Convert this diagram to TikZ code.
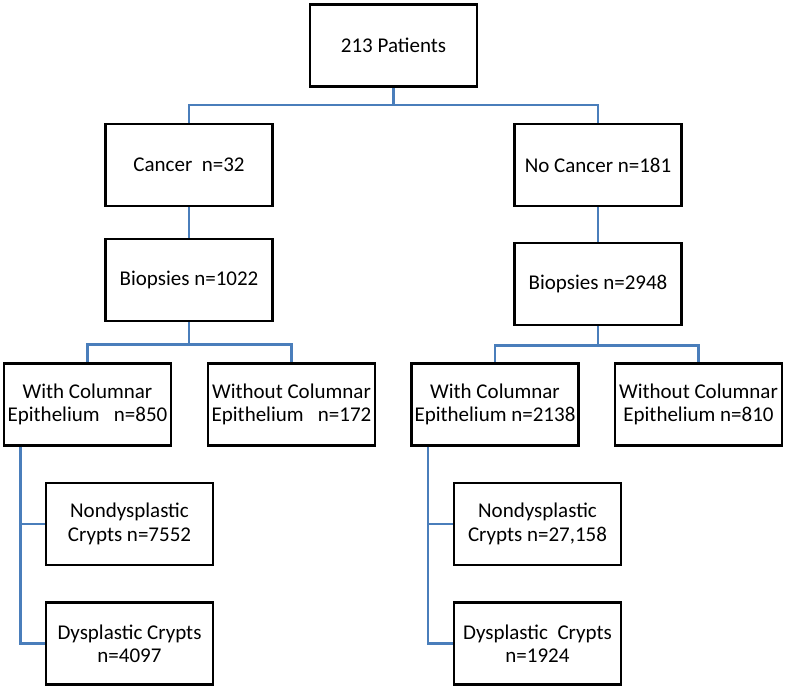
\documentclass[tikz,border=0pt]{standalone}
\usepackage{fontspec}
\setmainfont{Carlito}
\usepackage{tikz}
\usetikzlibrary{calc}
\definecolor{wireblue}{HTML}{4A7EBB}
\tikzset{
    my-box/.style={
        draw, line width=1.4pt, minimum width=83.5pt, minimum height=41pt,
        inner sep=1pt, align=center, font=\fontsize{10.5}{11.7}\selectfont
    },
    my-wire/.style={
        draw=wireblue, line width=1.2pt
    },
}

\begin{document}
\begin{tikzpicture}[x=0.5pt, y=-0.5pt]

        \useasboundingbox (0,0) rectangle (787,689);

        % PATIENTS
        \node[my-box] (TOP)       at (393.5,45.5) {213 Patients};

        % CANCER / NO CANCER
        \node[my-box] (CANCER)    at (189,165)    {Cancer\ \ n=32};
        \node[my-box] (NOCANCER)  at (598,165)    {No Cancer n=181};

        % BIOPSIES
        \node[my-box] (BIOPL)     at (189,280)    {Biopsies n=1022};
        \node[my-box] (BIOPR)     at (598,284)    {Biopsies n=2948};

        % EPITHELIUM
        \node[my-box] (WITHL)     at (87.5,404.5)  {With Columnar\\Epithelium\ \ \ n=850};
        \node[my-box] (WITHOUTL)  at (291.5,404.5) {Without Columnar\\Epithelium\ \ \ n=172};
        \node[my-box] (WITHR)     at (495,404.5)   {With Columnar\\Epithelium n=2138};
        \node[my-box] (WITHOUTR)  at (698.5,404.5) {Without Columnar\\Epithelium n=810};

        % CRYPTS
        \node[my-box] (NONDL)     at (129.5,524)   {Nondysplastic\\Crypts n=7552};
        \node[my-box] (DYSPL)     at (129.5,643.5) {Dysplastic Crypts\\n=4097};
        \node[my-box] (NONDR)     at (537.5,524)   {Nondysplastic\\Crypts n=27,158};
        \node[my-box] (DYSPR)     at (537.5,643.5) {Dysplastic\ \ Crypts\\n=1924};

        % CONNECTOR POINTS
        \coordinate (BUS1)   at ($(TOP.south)   + (0,17)$);
        \coordinate (BUS2L)  at ($(BIOPL.south) + (0,22)$);
        \coordinate (BUS2R)  at ($(BIOPR.south) + (0,19)$);
        \coordinate (TRUNKL) at ($(WITHL.south west) + (17.7,0)$);
        \coordinate (TRUNKR) at ($(WITHR.south west) + (18,0)$);

        % TOP LEVEL WIRES
        \draw[my-wire] (TOP.south) -- (BUS1);
        \draw[my-wire] (BUS1) -| (CANCER.north);
        \draw[my-wire] (BUS1) -| (NOCANCER.north);
        \draw[my-wire] (CANCER.south) -- (BIOPL.north);
        \draw[my-wire] (NOCANCER.south) -- (BIOPR.north);

        % BIOPSY WIRES
        \draw[my-wire] (BIOPL.south) -- (BUS2L);
        \draw[my-wire] (BUS2L) -| (WITHL.north);
        \draw[my-wire] (BUS2L) -| (WITHOUTL.north);
        \draw[my-wire] (BIOPR.south) -- (BUS2R);
        \draw[my-wire] (BUS2R) -| (WITHR.north);
        \draw[my-wire] (BUS2R) -| (WITHOUTR.north);

        % CRYPT WIRES
        \draw[my-wire] (TRUNKL) |- (NONDL.west);
        \draw[my-wire] (TRUNKL) |- (DYSPL.west);
        \draw[my-wire] (TRUNKR) |- (NONDR.west);
        \draw[my-wire] (TRUNKR) |- (DYSPR.west);

    \end{tikzpicture}
\end{document}
